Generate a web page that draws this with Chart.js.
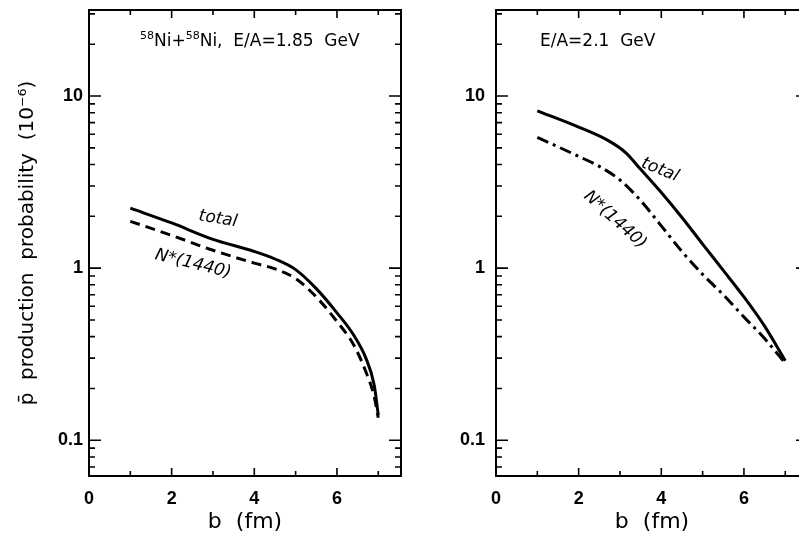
<!DOCTYPE html>
<html>
<head>
<meta charset="utf-8">
<script src="https://cdn.jsdelivr.net/npm/chart.js@4.4.0/dist/chart.umd.min.js"></script>
<style>
html, body { margin:0; padding:0; background:#fff; overflow:hidden; width:799px; height:535px; }
#leftChart { position:absolute; left:0; top:0; }
#rightChart { position:absolute; left:405px; top:0; }
</style>
</head>
<body>
<canvas id="leftChart" width="405" height="535"></canvas>
<canvas id="rightChart" width="410" height="535"></canvas>
<script>
// impact parameter b (fm) and production probability (10^-6)
var bLeft = [1, 2, 3, 4, 4.5, 5, 5.5, 6, 6.4, 6.7, 6.9, 7];
var totalLeft = [2.23, 1.83, 1.47, 1.25, 1.13, 0.98, 0.76, 0.55, 0.41, 0.30, 0.21, 0.14];
var nstarLeft = [1.87, 1.55, 1.27, 1.07, 0.99, 0.87, 0.68, 0.49, 0.36, 0.25, 0.18, 0.135];

var bRightTotal = [1, 2, 2.75, 3.15, 3.5, 4, 4.5, 5, 5.5, 6, 6.5, 7];
var totalRight = [8.2, 6.6, 5.45, 4.66, 3.75, 2.75, 1.97, 1.38, 0.97, 0.68, 0.46, 0.29];
var bRightNstar = [1, 2, 2.5, 3, 3.5, 4, 4.5, 5, 5.5, 6, 6.5, 7];
var nstarRight = [5.75, 4.46, 3.9, 3.25, 2.47, 1.76, 1.25, 0.92, 0.70, 0.52, 0.39, 0.28];

var xTicks = [0, 1, 2, 3, 4, 5, 6, 7];
var xLabels = [0, 2, 4, 6];
var yTicks = [0.07, 0.08, 0.09, 0.1, 0.2, 0.3, 0.4, 0.5, 0.6, 0.7, 0.8, 0.9,
              1, 2, 3, 4, 5, 6, 7, 8, 9, 10, 20, 30];
var yLabels = [0.1, 1, 10];

var yTitle = "p\u0304  production  probability  (10\u207B\u2076)";
// [text, superscript?]
var leftTitle = [["58", true], ["Ni+", false], ["58", true], ["Ni,  E/A=1.85  GeV", false]];
var rightTitle = [["E/A=2.1  GeV", false]];

function pts(xs, ys) {
    return xs.map(function (x, i) { return { x: x, y: ys[i] }; });
}

// frame, inward ticks on all four sides, and the text inside the panel
function framePlugin(title, tx, ty, notes) {
    return {
        id: 'frame',
        afterDraw: function (chart) {
            var c = chart.ctx, a = chart.chartArea;
            var xs = chart.scales.x, ys = chart.scales.y;
            c.save();
            c.strokeStyle = '#000';
            c.lineWidth = 2;
            c.strokeRect(a.left, a.top, a.right - a.left, a.bottom - a.top);
            c.lineWidth = 1.6;
            c.beginPath();
            xTicks.forEach(function (v) {
                var px = xs.getPixelForValue(v);
                var len = v % 2 === 0 ? 8 : 5;
                c.moveTo(px, a.bottom); c.lineTo(px, a.bottom - len);
                c.moveTo(px, a.top); c.lineTo(px, a.top + len);
            });
            yTicks.forEach(function (v) {
                var py = ys.getPixelForValue(v);
                var len = yLabels.indexOf(v) >= 0 ? 12 : 6;
                c.moveTo(a.left, py); c.lineTo(a.left + len, py);
                c.moveTo(a.right, py); c.lineTo(a.right - len, py);
            });
            c.stroke();

            c.fillStyle = '#000';
            c.textBaseline = 'alphabetic';
            c.textAlign = 'left';
            var x = tx;
            title.forEach(function (part) {
                c.font = part[1] ? '11px "DejaVu Sans"' : '17px "DejaVu Sans"';
                c.fillText(part[0], x, part[1] ? ty - 7 : ty);
                x += c.measureText(part[0]).width;
            });

            c.font = 'italic 17px "DejaVu Sans"';
            c.textAlign = 'center';
            c.textBaseline = 'middle';
            notes.forEach(function (n) {
                c.save();
                c.translate(n.x, n.y);
                c.rotate(n.angle * Math.PI / 180);
                c.fillText(n.text, 0, 0);
                c.restore();
            });
            c.restore();
        }
    };
}

function makeOptions(yAxisWidth, rightPad, labelPad, showTitle) {
    return {
        responsive: false,
        animation: false,
        layout: { padding: { top: 10, right: rightPad, left: 0, bottom: 0 } },
        plugins: { legend: { display: false }, tooltip: { enabled: false } },
        elements: { point: { radius: 0 } },
        scales: {
            x: {
                type: 'linear',
                min: 0,
                max: 7.55,
                grid: { display: false, drawTicks: false },
                border: { display: false },
                afterBuildTicks: function (scale) {
                    scale.ticks = xTicks.map(function (v) { return { value: v }; });
                },
                afterFit: function (scale) {
                    scale.height = 59;
                    scale.paddingLeft = 0;
                    scale.paddingRight = 0;
                },
                ticks: {
                    autoSkip: false,
                    maxRotation: 0,
                    padding: 12,
                    color: '#000',
                    font: { family: 'Liberation Sans', size: 18, weight: 'bold' },
                    callback: function (v) { return xLabels.indexOf(v) >= 0 ? String(v) : ''; }
                },
                title: {
                    display: true,
                    text: 'b  (fm)',
                    color: '#000',
                    padding: { top: 0, bottom: 0 },
                    font: { family: 'DejaVu Sans', size: 22 }
                }
            },
            y: {
                type: 'logarithmic',
                min: 0.062,
                max: 31.6,
                grid: { display: false, drawTicks: false },
                border: { display: false },
                afterBuildTicks: function (scale) {
                    scale.ticks = yTicks.map(function (v) { return { value: v }; });
                },
                afterFit: function (scale) {
                    scale.width = yAxisWidth;
                    scale.paddingTop = 0;
                    scale.paddingBottom = 0;
                },
                ticks: {
                    autoSkip: false,
                    padding: labelPad,
                    color: '#000',
                    font: { family: 'Liberation Sans', size: 18, weight: 'bold' },
                    callback: function (v) { return yLabels.indexOf(v) >= 0 ? String(v) : ''; }
                },
                title: {
                    display: showTitle,
                    text: yTitle,
                    color: '#000',
                    padding: { top: 16, bottom: 0 },
                    font: { family: 'DejaVu Sans', size: 20 }
                }
            }
        }
    };
}

var leftChart = new Chart(document.getElementById('leftChart'), {
    type: 'line',
    data: {
        datasets: [
            { data: pts(bLeft, totalLeft), borderColor: '#000', borderWidth: 3, fill: false, cubicInterpolationMode: 'monotone' },
            { data: pts(bLeft, nstarLeft), borderColor: '#000', borderWidth: 3, borderDash: [10, 6], fill: false, cubicInterpolationMode: 'monotone' }
        ]
    },
    options: makeOptions(89, 4, 6, true),
    plugins: [framePlugin(leftTitle, 140, 46, [
        { text: 'total', x: 218, y: 219, angle: 9 },
        { text: 'N*(1440)', x: 193, y: 264, angle: 14 }
    ])]
});

var rightChart = new Chart(document.getElementById('rightChart'), {
    type: 'line',
    data: {
        datasets: [
            { data: pts(bRightTotal, totalRight), borderColor: '#000', borderWidth: 3, fill: false, cubicInterpolationMode: 'monotone' },
            { data: pts(bRightNstar, nstarRight), borderColor: '#000', borderWidth: 3, borderDash: [12, 5, 3, 5], fill: false, cubicInterpolationMode: 'monotone' }
        ]
    },
    options: makeOptions(91, 7, 11, false),
    plugins: [framePlugin(rightTitle, 135, 46, [
        { text: 'total', x: 255, y: 170, angle: 22 },
        { text: 'N*(1440)', x: 210, y: 220, angle: 42 }
    ])]
});
</script>
</body>
</html>
